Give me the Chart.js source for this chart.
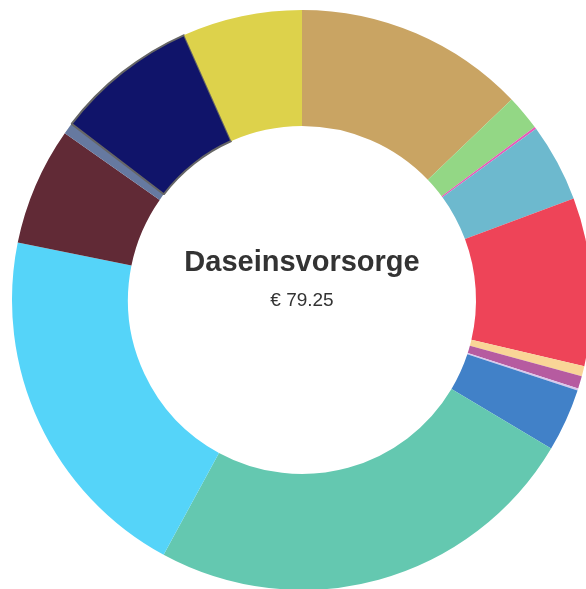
<!DOCTYPE html>
<html>
<head>
<meta charset="utf-8">
<script src="https://cdn.jsdelivr.net/npm/chart.js@4/dist/chart.umd.min.js"></script>
<style>
  html, body { margin: 0; padding: 0; background: #fff; overflow: hidden; width: 586px; height: 589px; }
  #wrap { position: absolute; left: 0; top: 0; width: 604px; height: 600px; }
  #c { position: absolute; left: 0; top: 0; }
  .title { position: absolute; left: 0; width: 604px; text-align: center; font-family: "Liberation Sans", Arial, sans-serif; color: #333; white-space: nowrap; }
  #t1 { top: 243px; font-size: 29px; font-weight: bold; line-height: 36px; }
  #t2 { top: 289px; font-size: 19px; line-height: 22px; }
</style>
</head>
<body>
<div id="wrap">
  <canvas id="c" width="604" height="600"></canvas>
  <div class="title" id="t1">Daseinsvorsorge</div>
  <div class="title" id="t2">€ 79.25</div>
</div>
<script>
const categories = [
  "Posten A", "Posten B", "Posten C", "Posten D", "Posten E",
  "Posten F", "Posten G", "Posten H", "Posten I", "Posten J",
  "Posten K", "Posten L", "Posten M", "Posten N", "Posten O"
];
const amounts = [10.19, 1.56, 0.10, 3.45, 7.42, 0.45, 0.55, 0.09, 2.78, 19.31, 16.05, 5.22, 0.50, 6.30, 5.28];
const sliceColors = [
  "#C9A463", "#93D785", "#E75BB8", "#6DB9CE", "#EE4458",
  "#F9D597", "#B65BA0", "#D8C8EC", "#4181C8", "#64C8B0",
  "#55D4F9", "#612A36", "#6679A0", "#10146A", "#DDD24B"
];
const totalLabel = "€ 79.25";
const centerTitle = "Daseinsvorsorge";

const highlighted = 13;
const borderWidths = amounts.map((_, i) => i === highlighted ? 2 : 0);
const borderColors = amounts.map((_, i) => i === highlighted ? "#666666" : "#ffffff");

new Chart(document.getElementById("c"), {
  type: "doughnut",
  data: {
    labels: categories,
    datasets: [{
      data: amounts,
      backgroundColor: sliceColors,
      borderWidth: borderWidths,
      borderColor: borderColors,
      hoverOffset: 0
    }]
  },
  options: {
    responsive: false,
    animation: false,
    events: [],
    radius: 290,
    cutout: "60%",
    layout: { padding: 0 },
    plugins: { legend: { display: false }, tooltip: { enabled: false }, title: { display: false } }
  }
});
document.getElementById("t1").textContent = centerTitle;
document.getElementById("t2").textContent = totalLabel;
</script>
</body>
</html>
